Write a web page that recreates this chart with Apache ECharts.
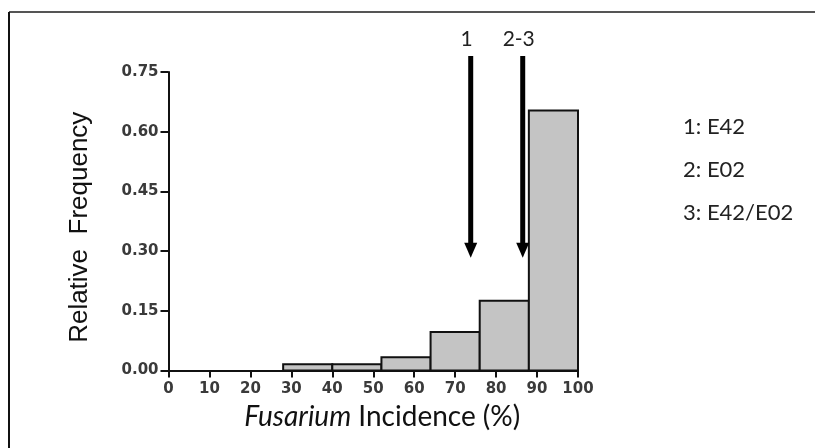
<!DOCTYPE html>
<html><head><meta charset="utf-8">
<script src="https://cdn.jsdelivr.net/npm/echarts@6/dist/echarts.min.js"></script>
<style>html,body{margin:0;padding:0;background:#fff}#c{width:815px;height:448px}</style>
</head><body><div id="c"></div>
<script>
// ---- data ----
const binStarts = [28, 40, 52, 64, 76, 88];
const binEnds   = [40, 52, 64, 76, 88, 100];
const relFreq   = [0.016, 0.016, 0.033, 0.097, 0.175, 0.653];
const xMin = 0, xMax = 100, xStep = 10;
const yMin = 0, yMax = 0.75, yStep = 0.15;
const arrowLabels = ['1', '2-3'];
const arrowX      = [73.8, 86.5];
const arrowTopY   = 0.79;
const arrowTipY   = 0.283;
const legendLines = ['1: E42', '2: E02', '3: E42/E02'];
const yTitle = 'Relative  Frequency';

const chart = echarts.init(document.getElementById('c'), null, {renderer: 'canvas'});

const barData = binStarts.map((s, i) => [s, binEnds[i], relFreq[i]]);
const arrowData = arrowX.map((x, i) => [x, arrowTopY, arrowTipY, arrowLabels[i]]);

const option = {
  animation: false,
  backgroundColor: '#fff',
  grid: {left: 168.5, right: 237, top: 72, bottom: 77.5, containLabel: false},
  xAxis: {
    type: 'value', min: xMin, max: xMax, interval: xStep,
    splitLine: {show: false},
    axisLine: {lineStyle: {color: '#111', width: 2}},
    axisTick: {length: 7, lineStyle: {color: '#111', width: 2}},
    axisLabel: {margin: 11, color: '#3a3a3a', fontFamily: 'DejaVu Sans', fontSize: 15, fontWeight: 'bold'},
    name: '{i|Fusarium} Incidence (%)',
    nameLocation: 'middle', nameGap: 32,
    nameTextStyle: {
      fontFamily: 'Lato', fontSize: 28, color: '#111', padding: [0, 0, 0, 18],
      rich: {i: {fontFamily: 'Lato', fontSize: 28, fontStyle: 'italic', color: '#111'}}
    }
  },
  yAxis: {
    type: 'value', min: yMin, max: yMax, interval: yStep,
    splitLine: {show: false},
    axisLine: {show: true, lineStyle: {color: '#111', width: 2}},
    axisTick: {show: true, length: 8, lineStyle: {color: '#111', width: 2}},
    axisLabel: {margin: 10, color: '#3a3a3a', fontFamily: 'DejaVu Sans', fontSize: 15, fontWeight: 'bold',
      formatter: v => v.toFixed(2)},
    name: yTitle, nameLocation: 'middle', nameGap: 76, nameRotate: 90,
    nameTextStyle: {fontFamily: 'Liberation Sans', fontSize: 26, color: '#111', padding: [0, 12, 0, 0]}
  },
  series: [
    {
      type: 'custom',
      data: barData,
      encode: {x: [0, 1], y: 2},
      renderItem: (params, api) => {
        const p0 = api.coord([api.value(0), api.value(2)]);
        const p1 = api.coord([api.value(1), 0]);
        return {
          type: 'rect',
          shape: {x: p0[0], y: p0[1], width: p1[0] - p0[0], height: p1[1] - p0[1]},
          style: {fill: '#c4c4c4', stroke: '#111', lineWidth: 2}
        };
      }
    },
    {
      type: 'custom',
      data: arrowData,
      clip: false,
      encode: {x: 0, y: [1, 2]},
      renderItem: (params, api) => {
        const x = api.value(0);
        const top = api.coord([x, api.value(1)]);
        const tip = api.coord([x, api.value(2)]);
        const headH = 15, headW = 13, shaftW = 5;
        return {
          type: 'group',
          children: [
            {type: 'rect', shape: {x: top[0] - shaftW / 2, y: top[1], width: shaftW, height: tip[1] - top[1] - headH + 2},
             style: {fill: '#000'}},
            {type: 'polygon', shape: {points: [[top[0] - headW / 2, tip[1] - headH], [top[0] + headW / 2, tip[1] - headH], [top[0], tip[1]]]},
             style: {fill: '#000'}},
            {type: 'text', x: top[0] - 4, y: top[1] - 17,
             style: {text: arrowLabels[params.dataIndex], fontFamily: 'Lato', fontSize: 21, fill: '#222', align: 'center', verticalAlign: 'middle'}}
          ]
        };
      }
    }
  ],
  graphic: [
    {type: 'line', shape: {x1: 9, y1: 12, x2: 815, y2: 12}, style: {stroke: '#555', lineWidth: 2}},
    {type: 'line', shape: {x1: 9, y1: 12, x2: 9, y2: 448}, style: {stroke: '#111', lineWidth: 2}},
    ...legendLines.map((t, i) => ({
      type: 'text', x: 683, y: 127 + i * 43,
      style: {text: t, fontFamily: 'Lato', fontSize: 22, fill: '#222', verticalAlign: 'middle', align: 'left'}
    }))
  ]
};
chart.setOption(option);
</script>
</body></html>
